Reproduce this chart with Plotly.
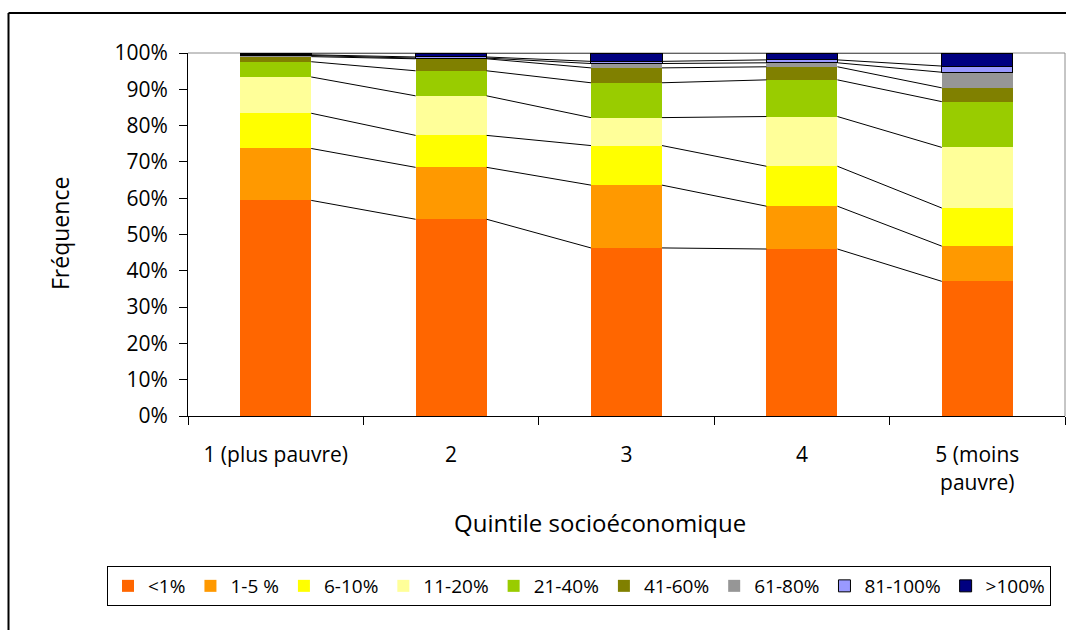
import plotly.graph_objects as go

# Quintiles socioéconomiques (axe des catégories)
quintiles = ["1 (plus pauvre)", "2", "3", "4", "5 (moins<br>pauvre)"]

# Fréquence (%) de chaque classe, par quintile
classes = ["<1%", "1-5 %", "6-10%", "11-20%", "21-40%", "41-60%", "61-80%", "81-100%", ">100%"]
freq_lt1 = [59.4, 54.2, 46.3, 46.0, 37.1]
freq_1_5 = [14.3, 14.3, 17.3, 11.8, 9.7]
freq_6_10 = [9.7, 8.8, 10.9, 11.0, 10.5]
freq_11_20 = [10.0, 10.9, 7.7, 13.7, 16.7]
freq_21_40 = [4.2, 6.9, 9.6, 10.1, 12.6]
freq_41_60 = [1.4, 3.3, 4.1, 3.6, 3.8]
freq_61_80 = [0.3, 0.2, 1.2, 1.1, 4.3]
freq_81_100 = [0.2, 0.3, 0.6, 0.8, 1.7]
freq_gt100 = [0.5, 1.1, 2.3, 1.9, 3.6]

colors = ["#FF6600", "#FF9900", "#FFFF00", "#FFFF99", "#99CC00",
          "#808000", "#969696", "#9999FF", "#000080"]
outlined = [False] * 7 + [True, True]

series = [freq_lt1, freq_1_5, freq_6_10, freq_11_20, freq_21_40,
          freq_41_60, freq_61_80, freq_81_100, freq_gt100]

FONT = "Open Sans"
BAR_W = 0.405
xpos = list(range(len(quintiles)))

fig = go.Figure()
for name, vals, col, edge in zip(classes, series, colors, outlined):
    fig.add_trace(go.Bar(
        x=xpos, y=vals, name=name, width=BAR_W,
        marker=dict(color=col,
                    line=dict(color="black", width=1 if edge else 0)),
    ))

# Lignes de séries reliant le haut de chaque segment d'une barre à l'autre
lx, ly = [], []
cum = [0.0] * len(quintiles)
for vals in series:
    cum = [c + v for c, v in zip(cum, vals)]
    for i in range(len(quintiles) - 1):
        lx += [xpos[i] + BAR_W / 2, xpos[i + 1] - BAR_W / 2, None]
        ly += [cum[i], cum[i + 1], None]
fig.add_trace(go.Scatter(x=lx, y=ly, mode="lines", showlegend=False,
                         hoverinfo="skip",
                         line=dict(color="black", width=1)))

# Géométrie en pixels de la zone de tracé
W, H = 1066, 630
L, R, T, B = 188, 1, 53, 214
pw, ph = W - L - R, H - T - B


def px_x(p):
    return (p - L) / pw


def px_y(p):
    return (H - B - p) / ph


fig.update_layout(
    width=W, height=H,
    margin=dict(l=L, r=R, t=T, b=B, pad=0),
    barmode="stack",
    plot_bgcolor="white", paper_bgcolor="white",
    font=dict(family=FONT, size=20, color="black"),
    showlegend=True,
    legend=dict(
        orientation="h", x=px_x(107), y=px_y(566),
        xanchor="left", yanchor="top",
        bordercolor="black", borderwidth=1,
        font=dict(family=FONT, size=19),
        traceorder="normal",
        itemwidth=30,
    ),
    xaxis=dict(
        range=[-0.5, len(quintiles) - 0.5],
        tickvals=xpos, ticktext=quintiles,
        ticks="", showgrid=False, zeroline=False,
        showline=True, linecolor="black", linewidth=1,
        tickfont=dict(family=FONT, size=21),
        ticklabelstandoff=20,
        minor=dict(tickvals=[i - 0.5 for i in range(len(quintiles) + 1)],
                   ticks="outside", ticklen=8, tickcolor="black",
                   showgrid=False),
    ),
    yaxis=dict(
        range=[0, 100], dtick=10, ticksuffix="%",
        ticks="outside", ticklen=8, tickcolor="black",
        showgrid=False, zeroline=False,
        showline=True, linecolor="black", linewidth=1,
        tickfont=dict(family=FONT, size=21),
        ticklabelstandoff=7,
    ),
    shapes=[
        # bordure grise de la zone de tracé (haut et droite)
        dict(type="line", xref="paper", yref="paper", x0=0, x1=1, y0=1, y1=1,
             line=dict(color="#8C8C8C", width=1), layer="below"),
        dict(type="line", xref="paper", yref="paper", x0=1, x1=1, y0=0, y1=1,
             line=dict(color="#8C8C8C", width=1), layer="below"),
        # cadre du graphique
        dict(type="line", xref="paper", yref="paper",
             x0=px_x(8.5), x1=px_x(8.5), y0=px_y(13), y1=px_y(660),
             line=dict(color="black", width=2)),
        dict(type="line", xref="paper", yref="paper",
             x0=px_x(8.5), x1=px_x(1100), y0=px_y(13), y1=px_y(13),
             line=dict(color="black", width=2)),
    ],
    annotations=[
        dict(text="Fréquence", xref="paper", yref="paper",
             x=px_x(60), y=px_y(234), textangle=-90, showarrow=False,
             xanchor="center", yanchor="middle",
             font=dict(family=FONT, size=23)),
        dict(text="Quintile socioéconomique", xref="paper", yref="paper",
             x=px_x(600), y=px_y(522), showarrow=False,
             xanchor="center", yanchor="middle",
             font=dict(family=FONT, size=24)),
    ],
)

fig.write_html("out.html")
